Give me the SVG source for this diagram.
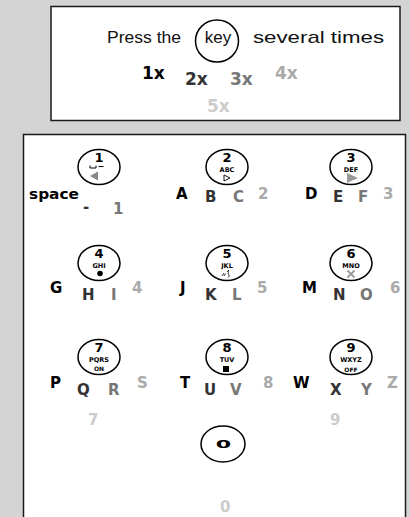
<svg xmlns="http://www.w3.org/2000/svg" width="410" height="517" viewBox="0 0 410 517">
<style>
.box{fill:#fff;stroke:#1a1a1a;stroke-width:1.5}
.key{fill:#fff;stroke:#000;stroke-width:1.5}
.t{font-family:"Liberation Sans",Arial,sans-serif;font-size:17px;fill:#111}
.b{font-family:"DejaVu Sans",sans-serif;font-weight:bold}
.lg{font-size:17px}
.lb{font-size:15px}
.dg{font-size:13px;text-anchor:middle;fill:#000}
.sm{font-size:6.5px;text-anchor:middle;fill:#000}
.c1{fill:#000}.c2{fill:#333}.c3{fill:#777}.c4{fill:#aaa}.c5{fill:#ccc}
</style>
<rect width="410" height="517" fill="#d4d4d4"/>
<g id="legend">
<rect class="box" x="51" y="6.5" width="349" height="114"/>
<text class="t" x="107" y="43" textLength="74" lengthAdjust="spacingAndGlyphs">Press the</text>
<ellipse cx="217" cy="41" rx="21.5" ry="21" fill="none" stroke="#000" stroke-width="1.5"/>
<text class="t" x="218" y="43" text-anchor="middle">key</text>
<text class="t" x="253" y="43" textLength="131" lengthAdjust="spacingAndGlyphs">several times</text>
<text class="b lg c1" x="142" y="79">1x</text>
<text class="b lg c2" x="185" y="85">2x</text>
<text class="b lg c3" x="230" y="85">3x</text>
<text class="b lg c4" x="275" y="79">4x</text>
<text class="b lg c5" x="207" y="112">5x</text>
</g>
<rect class="box" x="23.5" y="134.5" width="382" height="400"/>
<g id="key1">
<ellipse class="key" cx="99" cy="167" rx="21" ry="17.5"/>
<text class="b dg" x="99" y="162">1</text>
<path d="M90 165.5v2.5h6v-2.5M98.5 166.5h5" fill="none" stroke="#000" stroke-width="1"/>
<polygon points="90,176 98,171.5 98,180.5" fill="#888"/>
</g>
<g id="key2">
<ellipse class="key" cx="227" cy="167" rx="21" ry="17.5"/>
<text class="b dg" x="227" y="162">2</text>
<text class="b sm" x="227" y="172">ABC</text>
<polygon points="224,175 230,178 224,181" fill="none" stroke="#000" stroke-width="0.9"/>
</g>
<g id="key3">
<ellipse class="key" cx="351" cy="167" rx="21" ry="17.5"/>
<text class="b dg" x="351" y="162">3</text>
<text class="b sm" x="351" y="172">DEF</text>
<polygon points="347,173 358,178 347,183" fill="#999"/>
</g>
<g id="key4">
<ellipse class="key" cx="99" cy="263" rx="21" ry="17.5"/>
<text class="b dg" x="99" y="258">4</text>
<text class="b sm" x="99" y="268">GHI</text>
<circle cx="100" cy="273.5" r="2.8" fill="#000"/>
</g>
<g id="key5">
<ellipse class="key" cx="227" cy="263" rx="21" ry="17.5"/>
<text class="b dg" x="227" y="258">5</text>
<text class="b sm" x="227" y="268">JKL</text>
<path d="M222 276l2-3M224 276l1.5-2.5M227 271.5q2-1 1.5 1q-1 1.5 0.5 2.5q1 1 -1 2.5" fill="none" stroke="#000" stroke-width="0.8"/>
<circle cx="228.5" cy="270.5" r="0.6" fill="#000"/>
</g>
<g id="key6">
<ellipse class="key" cx="351" cy="263" rx="21" ry="17.5"/>
<text class="b dg" x="351" y="258">6</text>
<text class="b sm" x="351" y="268">MNO</text>
<path d="M347.5 270.5l7 7M354.5 270.5l-7 7" stroke="#999" stroke-width="1.8"/>
</g>
<g id="key7">
<ellipse class="key" cx="99" cy="357" rx="21" ry="17.5"/>
<text class="b dg" x="99" y="352">7</text>
<text class="b sm" x="99" y="361.5">PQRS</text>
<text class="b sm" x="99" y="370.5" style="font-size:6px">ON</text>
</g>
<g id="key8">
<ellipse class="key" cx="227" cy="357" rx="21" ry="17.5"/>
<text class="b dg" x="227" y="352">8</text>
<text class="b sm" x="227" y="361.5">TUV</text>
<rect x="223" y="366" width="6" height="6" fill="#000"/>
</g>
<g id="key9">
<ellipse class="key" cx="351" cy="357" rx="21" ry="17.5"/>
<text class="b dg" x="351" y="352">9</text>
<text class="b sm" x="351" y="361.5">WXYZ</text>
<text class="b sm" x="351" y="372" style="font-size:6px">OFF</text>
</g>
<g id="key0">
<ellipse class="key" cx="223" cy="444" rx="22" ry="18"/>
<text class="b dg" x="0" y="0" transform="translate(223.5 448) scale(1.7 0.8)">0</text>
</g>
<g id="labels">
<text class="b c1" x="29" y="199" style="font-size:14px" textLength="50" lengthAdjust="spacingAndGlyphs">space</text>
<text class="b lb c2" x="83" y="212">-</text>
<text class="b lb c3" x="113" y="214">1</text>
<text class="b lb c1" x="176" y="199">A</text>
<text class="b lb c2" x="205" y="202">B</text>
<text class="b lb c3" x="233" y="202">C</text>
<text class="b lb c4" x="258" y="199">2</text>
<text class="b lb c1" x="305" y="199">D</text>
<text class="b lb c2" x="333" y="202">E</text>
<text class="b lb c3" x="358" y="202">F</text>
<text class="b lb c4" x="383" y="199">3</text>
<text class="b lb c1" x="50" y="293">G</text>
<text class="b lb c2" x="82" y="300">H</text>
<text class="b lb c3" x="111" y="300">I</text>
<text class="b lb c4" x="132" y="293">4</text>
<text class="b lb c1" x="180" y="293">J</text>
<text class="b lb c2" x="205" y="300">K</text>
<text class="b lb c3" x="232" y="300">L</text>
<text class="b lb c4" x="257" y="293">5</text>
<text class="b lb c1" x="302" y="293">M</text>
<text class="b lb c2" x="333" y="300">N</text>
<text class="b lb c3" x="360" y="300">O</text>
<text class="b lb c4" x="390" y="293">6</text>
<text class="b lb c1" x="50" y="388">P</text>
<text class="b lb c2" x="77" y="395">Q</text>
<text class="b lb c3" x="108" y="395">R</text>
<text class="b lb c4" x="137" y="388">S</text>
<text class="b lb c1" x="180" y="388">T</text>
<text class="b lb c2" x="204" y="395">U</text>
<text class="b lb c3" x="230" y="395">V</text>
<text class="b lb c4" x="263" y="388">8</text>
<text class="b lb c1" x="293" y="388">W</text>
<text class="b lb c2" x="330" y="395">X</text>
<text class="b lb c3" x="361" y="395">Y</text>
<text class="b lb c4" x="387" y="388">Z</text>
<text class="b lb c5" x="88" y="425">7</text>
<text class="b lb c5" x="330" y="425">9</text>
<text class="b lb c5" x="220" y="512">0</text>
</g>
</svg>
